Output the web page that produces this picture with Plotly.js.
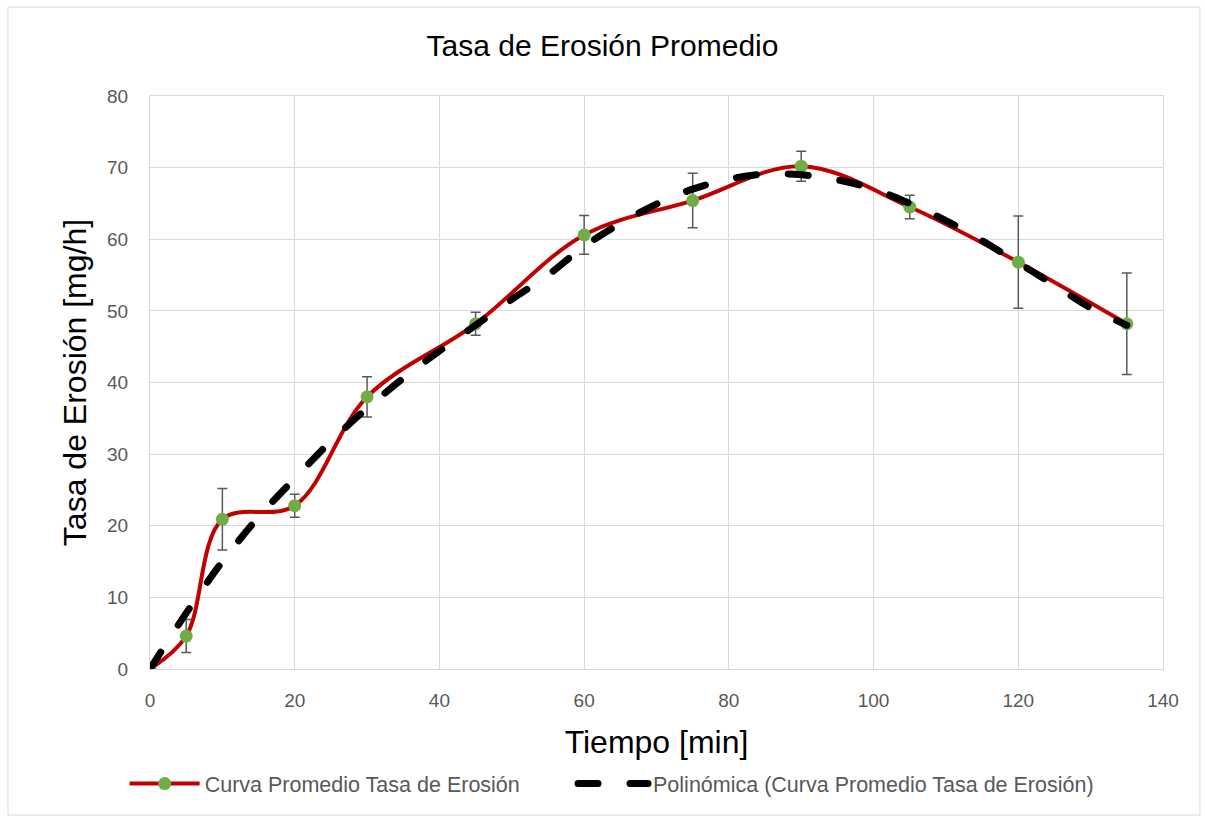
<!DOCTYPE html>
<html>
<head>
<meta charset="utf-8">
<script src="https://cdn.plot.ly/plotly-3.0.1.min.js"></script>
<style>
html,body{margin:0;padding:0;background:#fff;}
#chart{width:1205px;height:819px;}
</style>
</head>
<body>
<div id="chart"></div>
<script>
// Measured series
const tiempo = [0, 5, 10, 20, 30, 45, 60, 75, 90, 105, 120, 135];
const tasa = [0, 4.6, 20.9, 22.8, 38.0, 48.2, 60.6, 65.4, 70.2, 64.5, 56.8, 48.2];
const errorTasa = [0, 2.3, 4.3, 1.6, 2.8, 1.6, 2.7, 3.8, 2.1, 1.65, 6.45, 7.1];

// Polynomial trendline, values
const trendX = [0, 5, 10, 15, 20, 25, 30, 35, 40, 45, 50, 55, 60, 65, 70, 75, 80, 85, 90, 95, 100, 105, 110, 115, 120, 125, 130, 135];
const trendY = [0, 7.8, 15.0, 21.2, 26.6, 31.8, 36.4, 40.6, 44.4, 48.0, 51.6, 55.0, 59.0, 62.2, 64.9, 67.0, 68.4, 69.1, 69.0, 68.3, 67.0, 65.0, 62.6, 59.8, 56.7, 53.6, 50.4, 48.0];

const serieNombre = 'Curva Promedio Tasa de Erosión';
const trendNombre = 'Polinómica (Curva Promedio Tasa de Erosión)';
const xTicks = [0, 20, 40, 60, 80, 100, 120, 140];
const yTicks = [0, 10, 20, 30, 40, 50, 60, 70, 80];

const traces = [
  {
    x: tiempo, y: tasa, name: serieNombre, type: 'scatter', mode: 'lines+markers',
    line: {color: '#c00000', width: 4, shape: 'spline', smoothing: 1},
    marker: {color: '#70ad47', size: 13},
    error_y: {type: 'data', array: errorTasa, visible: true, color: '#595959', thickness: 1.5, width: 5},
    legend: 'legend'
  },
  {
    x: trendX, y: trendY, name: trendNombre, type: 'scatter', mode: 'lines',
    line: {color: '#000000', width: 7, dash: '20px,32px', shape: 'spline'},
    legend: 'legend2'
  }
];

const legendFont = {size: 21.5, color: '#595959'};

const layout = {
  width: 1205, height: 819,
  paper_bgcolor: '#ffffff', plot_bgcolor: '#ffffff',
  margin: {l: 150, r: 42, t: 96, b: 150},
  font: {family: 'Liberation Sans, Arial, sans-serif', color: '#595959'},
  title: {text: 'Tasa de Erosión Promedio', font: {size: 30, color: '#000000'}, x: 0.5, xanchor: 'center', y: 0.945, yanchor: 'middle'},
  xaxis: {
    range: [0, 140], tickvals: xTicks, ticktext: xTicks.map(String),
    showgrid: true, gridcolor: '#d9d9d9', gridwidth: 1,
    zeroline: false, showline: true, linecolor: '#d9d9d9', mirror: true,
    ticks: '', tickfont: {size: 19, color: '#595959'}, ticklabelstandoff: 14,
    title: {text: 'Tiempo [min]', font: {size: 32, color: '#000000'}, standoff: 20}
  },
  yaxis: {
    range: [0, 80], tickvals: yTicks, ticktext: yTicks.map(String),
    showgrid: true, gridcolor: '#d9d9d9', gridwidth: 1,
    zeroline: false, showline: true, linecolor: '#d9d9d9', mirror: true,
    ticks: '', tickfont: {size: 19, color: '#595959'}, ticklabelstandoff: 17,
    title: {text: 'Tasa de Erosión [mg/h]', font: {size: 32, color: '#000000'}, standoff: 10}
  },
  legend: {
    orientation: 'h', x: -0.025, xanchor: 'left', y: -0.2, yanchor: 'middle',
    font: legendFont, itemwidth: 70
  },
  legend2: {
    orientation: 'h', x: 0.4176, xanchor: 'left', y: -0.2, yanchor: 'middle',
    font: legendFont, itemwidth: 70
  },
  showlegend: true,
  shapes: [{
    type: 'rect', xref: 'paper', yref: 'paper',
    x0: -0.1402, x1: 1.0365, y0: -0.2548, y1: 1.1553,
    line: {color: '#d9d9d9', width: 1}, fillcolor: 'rgba(0,0,0,0)', layer: 'below'
  }]
};

Plotly.newPlot('chart', traces, layout, {displayModeBar: false, staticPlot: true}).then(function (gd) {
  const tr = gd.querySelectorAll('.scatterlayer .trace');
  if (tr.length > 1) {
    tr[tr.length - 1].querySelectorAll('path.js-line').forEach(function (p) { p.style.strokeLinecap = 'round'; });
  }
  gd.querySelectorAll('.legend2 path.js-line, .infolayer g[class*="legend2"] path.js-line').forEach(function (p) { p.style.strokeLinecap = 'round'; });
});
</script>
</body>
</html>
